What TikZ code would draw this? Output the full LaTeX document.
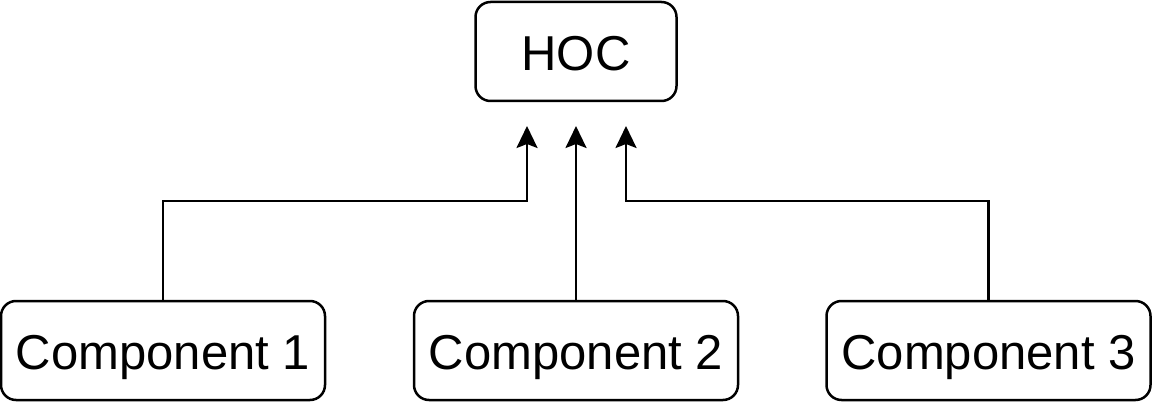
\documentclass[tikz,border=0pt]{standalone}
\usepackage{fontspec}
\setmainfont{Liberation Sans}
\usetikzlibrary{arrows.meta}
\begin{document}
\begin{tikzpicture}[x=1pt,y=-1pt,
  box/.style={draw=black,line width=2.5pt,rounded corners=15pt,fill=white,inner sep=0pt,
    text height=38.5pt,text depth=0pt,font=\fontsize{49}{59}\selectfont},
  arr/.style={draw=black,line width=2.5pt,-{Stealth[length=22pt,width=21pt,inset=4pt]}}]
\useasboundingbox (0,0) rectangle (1153,403);
\node[box,minimum width=201pt,minimum height=99pt] (hoc) at (576,51.5) {HOC};
\node[box,minimum width=324pt,minimum height=99pt] (c1) at (163,350.5) {Component 1};
\node[box,minimum width=324pt,minimum height=99pt] (c2) at (576,350.5) {Component 2};
\node[box,minimum width=324pt,minimum height=99pt] (c3) at (988.5,350.5) {Component 3};
\coordinate (t1) at (527,126);
\coordinate (t2) at (576,126);
\coordinate (t3) at (626,126);
\coordinate (j1) at (527,201);
\coordinate (j3) at (626,201);
\draw[arr] (c1.north) |- (j1) -- (t1);
\draw[arr] (c2.north) -- (t2);
\draw[arr] (c3.north) |- (j3) -- (t3);
\end{tikzpicture}
\end{document}
